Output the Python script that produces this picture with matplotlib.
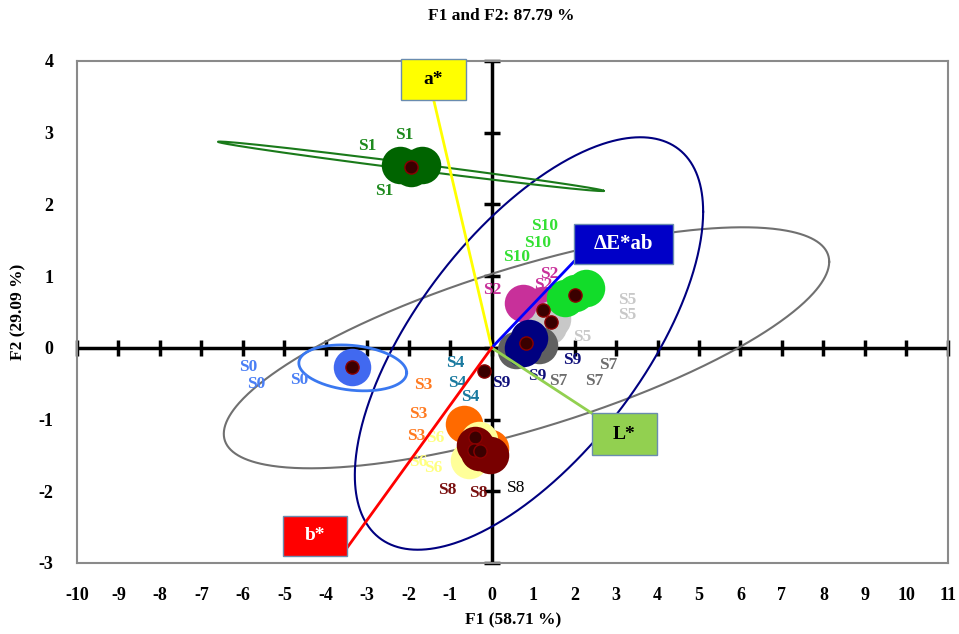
import numpy as np
import matplotlib
matplotlib.use('Agg')
import matplotlib.pyplot as plt
from matplotlib.patches import Rectangle

"""chart values read from the reference"""
title = 'F1 and F2: 87.79 %'
x_label = 'F1 (58.71 %)'
y_label = 'F2 (29.09 %)'
x_ticks = list(range(-10, 12))
y_ticks = list(range(-3, 5))

# variable vectors (loadings)
var_names = ['a*', '\u0394E*ab', 'L*', 'b*']
var_x = [-1.40, 1.98, 2.41, -3.49]
var_y = [3.46, 1.20, -0.91, -2.79]

# sample replicates drawn as big circles
samples = ['S2', 'S5', 'S7', 'S9', 'S10', 'S0', 'S1', 'S4', 'S3', 'S6', 'S8']
rep_x = {'S0': [-3.37], 'S1': [-2.22, -1.68, -1.95], 'S2': [0.75, 1.25],
         'S3': [-0.67, -0.05], 'S4': [], 'S5': [1.45, 1.18, 1.35],
         'S6': [-0.55, -0.31], 'S7': [1.15, 0.58], 'S9': [0.89, 0.75],
         'S10': [1.78, 2.27, 2.02], 'S8': [-0.39, -0.05, -0.30]}
rep_y = {'S0': [-0.27], 'S1': [2.55, 2.55, 2.50], 'S2': [0.63, 0.60],
         'S3': [-1.06, -1.40], 'S4': [], 'S5': [0.40, 0.21, 0.30],
         'S6': [-1.56, -1.28], 'S7': [0.04, -0.03], 'S9': [0.14, 0.00],
         'S10': [0.70, 0.84, 0.77], 'S8': [-1.35, -1.49, -1.45]}

# sample means (dark dots)
mean_x = [-3.37, -1.95, 1.23, 1.42, 2.02, 0.82, -0.19, -0.39, -0.43, -0.27]
mean_y = [-0.27, 2.52, 0.52, 0.36, 0.74, 0.07, -0.32, -1.24, -1.42, -1.44]

# observation labels
lab_x = {'S0': [-5.88, -5.69, -4.63], 'S1': [-2.99, -2.12, -2.60],
         'S10': [1.28, 1.11, 0.60], 'S2': [0.02, 1.40, 1.25],
         'S5': [3.28, 3.28, 2.19], 'S9': [1.95, 1.11, 0.22],
         'S7': [2.82, 1.61, 2.48], 'S4': [-0.87, -0.84, -0.51],
         'S3': [-1.66, -1.76, -1.83], 'S6': [-1.37, -1.78, -1.40],
         'S8': [-1.08, -0.31]}
lab_y = {'S0': [-0.27, -0.50, -0.45], 'S1': [2.82, 2.97, 2.18],
         'S10': [1.70, 1.46, 1.26], 'S2': [0.81, 1.03, 0.88],
         'S5': [0.67, 0.46, 0.15], 'S9': [-0.17, -0.40, -0.49],
         'S7': [-0.24, -0.46, -0.46], 'S4': [-0.21, -0.49, -0.68],
         'S3': [-0.52, -0.92, -1.23], 'S6': [-1.26, -1.59, -1.68],
         'S8': [-1.98, -2.02]}
extra_label = ('S8', 0.60, -1.95)

# confidence ellipses: centre x, centre y, x half-extent, y half-extent, correlation
ell_navy = (0.90, 0.06, 4.20, 2.875, 0.639)
ell_gray = (0.84, 0.00, 7.30, 1.68, 0.714)
ell_blue = (-3.35, -0.28, 1.30, 0.32, -0.21)
ell_green = (-1.95, 2.53, 4.65, 0.345, -0.991)

"""styles"""
circle_color = {'S0': '#4169f0', 'S1': '#006400', 'S2': '#c8309a', 'S3': '#ff6a00',
                'S4': '#1a7aa0', 'S5': '#c8c8c8', 'S6': '#ffff99', 'S7': '#606060',
                'S8': '#780000', 'S9': '#000080', 'S10': '#12dc2a'}
label_color = {'S0': '#4a7ff5', 'S1': '#1e8a1e', 'S2': '#c8309a', 'S3': '#ff7a20',
               'S4': '#1a7aa0', 'S5': '#c8c8c8', 'S6': '#ffff80', 'S7': '#6e6e6e',
               'S8': '#7a1010', 'S9': '#10107a', 'S10': '#33e033'}
var_line = ['#ffff00', '#0000ff', '#92d050', '#ff0000']
var_box = ['#ffff00', '#0000c8', '#92d050', '#ff0000']
var_text = ['black', 'white', 'black', 'white']
box_w = [1.57, 2.39, 1.57, 1.54]
box_h = [0.56, 0.56, 0.59, 0.56]
box_fx = [0.5, 0.0, 0.0, 1.0]
box_fy = [0.0, 0.05, 1.0, 0.2]

serif = 'Liberation Serif'
plt.rcParams['font.family'] = serif

fig = plt.figure(figsize=(9.59, 6.34), dpi=100)
ax = fig.add_axes([0.0803, 0.112, 0.908, 0.792])
ax.set_xlim(-10, 11)
ax.set_ylim(-3, 4)

for s in ax.spines.values():
    s.set_color('#8a8a8a')
    s.set_linewidth(1.5)
ax.set_xticks(x_ticks)
ax.set_yticks(y_ticks)
ax.set_xticklabels([str(v) for v in x_ticks], fontsize=13, fontweight='bold')
ax.set_yticklabels([str(v) for v in y_ticks], fontsize=13, fontweight='bold')
ax.tick_params(length=0, pad=17)

"""centre axes with tick marks"""
ax.axhline(0, color='black', lw=2.5, zorder=1)
ax.axvline(0, color='black', lw=2.5, zorder=1)
ax.plot(x_ticks, np.zeros(len(x_ticks)), ls='none', marker='|', ms=11,
        mew=2.5, color='black', zorder=1, clip_on=False)
ax.plot(np.zeros(len(y_ticks)), y_ticks, ls='none', marker='_', ms=11,
        mew=2.5, color='black', zorder=1, clip_on=False)

"""ellipses"""
t = np.linspace(0, 2 * np.pi, 600)


def draw_ellipse(p, color, lw):
    cx, cy, rx, ry, rho = p
    ex = cx + rx * np.cos(t)
    ey = cy + ry * (rho * np.cos(t) + np.sqrt(1 - rho ** 2) * np.sin(t))
    ax.plot(ex, ey, color=color, lw=lw, zorder=2)


draw_ellipse(ell_gray, '#707070', 1.5)
draw_ellipse(ell_navy, '#000080', 1.5)
draw_ellipse(ell_blue, '#3a78f0', 2)
draw_ellipse(ell_green, '#1a7a1a', 1.5)

"""sample circles"""
for s in samples:
    ax.plot(rep_x[s], rep_y[s], ls='none', marker='o', ms=27, mew=0,
            color=circle_color[s], zorder=4)
ax.plot(mean_x, mean_y, ls='none', marker='o', ms=9.5, mfc='#3a0000',
        mec='#8b0000', mew=1, zorder=5)

"""labels"""
for s in lab_x:
    for lx, ly in zip(lab_x[s], lab_y[s]):
        ax.text(lx, ly, s, color=label_color[s], fontsize=12.5, fontweight='bold',
                ha='center', va='center', zorder=6)
ax.text(extra_label[1], extra_label[2], extra_label[0], color='black',
        fontsize=12.5, ha='center', va='center', zorder=6)

"""variable vectors and boxes"""
for i in range(len(var_names)):
    ax.plot([0, var_x[i]], [0, var_y[i]], color=var_line[i], lw=2, zorder=7)
    x0 = var_x[i] - box_fx[i] * box_w[i]
    y0 = var_y[i] - box_fy[i] * box_h[i]
    ax.add_patch(Rectangle((x0, y0), box_w[i], box_h[i], facecolor=var_box[i],
                           edgecolor='#6a8caf', lw=1, zorder=8, clip_on=False))
    ax.text(x0 + box_w[i] / 2, y0 + box_h[i] / 2, var_names[i], color=var_text[i],
            fontsize=14 if i != 1 else 15, fontweight='bold', ha='center',
            va='center', zorder=9)

fig.text(0.523, 1 - 16 / 634, title, fontsize=12.5, fontweight='bold',
         ha='center', va='center')
fig.text(513 / 959, 1 - 620 / 634, x_label, fontsize=12.5, fontweight='bold',
         ha='center', va='center')
fig.text(18 / 959, 1 - 312 / 634, y_label, fontsize=12.5, fontweight='bold',
         ha='center', va='center', rotation=90)

plt.savefig('out.png', dpi=100)
